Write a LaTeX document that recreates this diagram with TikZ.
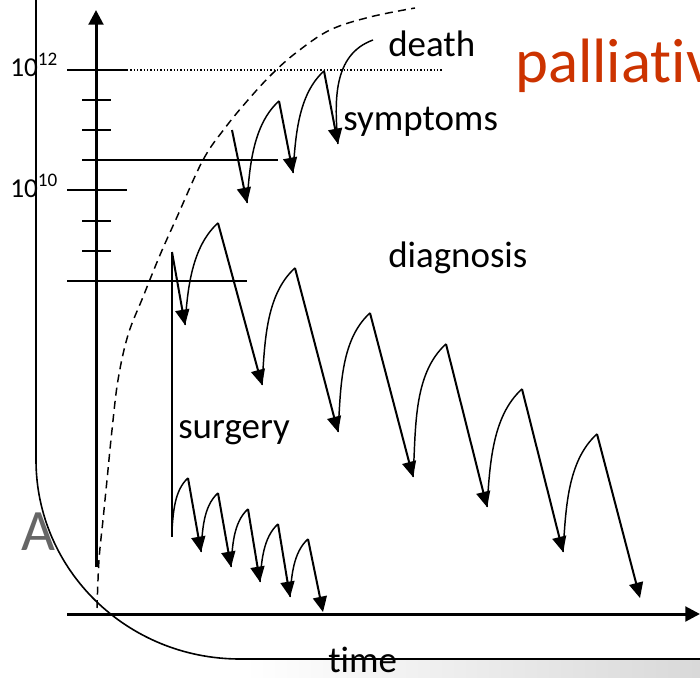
\documentclass[tikz,border=0pt]{standalone}
\usepackage{fontspec}
\setmainfont{Carlito}[Ligatures={CommonOff}]
\usetikzlibrary{arrows.meta,calc}
\definecolor{palred}{RGB}{204,51,0}
\begin{document}
\begin{tikzpicture}[x=0.75pt,y=0.75pt,
  lbl/.style={font=\fontsize{27.7}{30}\selectfont, inner sep=0pt, anchor=base west},
  exp/.style={font=\fontsize{20.5}{21}\selectfont, inner sep=0pt, anchor=base west},
  arr/.style={line width=1.5pt, -{Triangle[length=11.5pt,width=10.5pt]}},
  hump/.style={line width=1.1pt, out=86, in=222, looseness=0.85},
  axisline/.style={line width=2.25pt, -{Triangle[length=11pt,width=11pt]}},
  thinline/.style={line width=0.9pt},
  tickline/.style={line width=1.6pt}]
\useasboundingbox (0,0) rectangle (700,-678);
% faded letter behind the frame
\node[anchor=base west, inner sep=0pt, text=black!60, font=\fontsize{44}{44}\selectfont] (A) at (21,-550) {A};
% white interior of the frame
\fill[white] (36,10) -- (36,-460) .. controls (36,-570) and (127,-659) .. (240,-659) -- (710,-659) -- (710,10) -- cycle;
% grey band at the bottom
\shade[left color=white, right color=black!15] (245,-660) rectangle (700,-678);
% frame
\draw[line width=1.2pt] (36,0) -- (36,-460) .. controls (36,-570) and (127,-659) .. (240,-659) -- (700,-659);

% axes
\coordinate (yb) at (96,-567);
\coordinate (yt) at (96,-10);
\coordinate (xl) at (67,-614);
\coordinate (xr) at (700,-614);
\draw[axisline] (yb) -- (yt);
\draw[axisline] (xl) -- (xr);

% ticks and levels
\draw[tickline] (67,-70) -- (127,-70);
\draw[line width=0.9pt, dash pattern=on 0.9pt off 1.6pt] (127,-70) -- (443,-70);
\draw[tickline] (82,-100) -- (111,-100);
\draw[tickline] (82,-130) -- (111,-130);
\draw[tickline] (82,-160) -- (111,-160);
\draw[thinline] (111,-160) -- (278,-160);
\draw[tickline] (67,-190) -- (127,-190);
\draw[tickline] (82,-221) -- (111,-221);
\draw[tickline] (82,-251) -- (111,-251);
\draw[thinline] (67,-281) -- (247,-281);

\node[exp] (e12) at (10,-76) {10\textsuperscript{12}};
\node[exp] (e10) at (10,-197) {10\textsuperscript{10}};

% dashed growth curve
\draw[line width=1.1pt, dash pattern=on 6pt off 4pt] plot[smooth, tension=0.6] coordinates {
 (97,-608) (99,-560) (103,-520) (107,-480) (112,-430) (118,-380) (128,-335) (143,-297)
 (160,-255) (177,-217) (203,-160) (225,-128) (248,-100) (272,-74) (297,-52) (330,-30)
 (370,-17) (415,-8)};

% top group (symptoms)
\coordinate (t0) at (232,-130);
\coordinate (t1) at (247,-203);
\coordinate (p1) at (279,-101);
\coordinate (t2) at (293,-173);
\coordinate (p2) at (324,-71);
\coordinate (t3) at (338,-144);
\coordinate (dd) at (373,-40);
\draw[arr] (t0) -- (t1);
\draw[hump] (t1) to (p1);
\draw[arr] (p1) -- (t2);
\draw[hump] (t2) to (p2);
\draw[arr] (p2) -- (t3);
\draw[line width=1.1pt] (t3) to[out=95,in=200] (dd);

% middle group (diagnosis)
\coordinate (m0) at (172,-252);
\coordinate (m1) at (185,-325);
\coordinate (q1) at (218,-223);
\coordinate (m2) at (262,-385);
\coordinate (q2) at (295,-268);
\coordinate (m3) at (338,-432);
\coordinate (q3) at (370,-313);
\coordinate (m4) at (413,-477);
\coordinate (q4) at (446,-344);
\coordinate (m5) at (487,-507);
\coordinate (q5) at (522,-389);
\coordinate (m6) at (563,-552);
\coordinate (q6) at (597,-434);
\coordinate (m7) at (640,-598);
\draw[arr] (m0) -- (m1);
\draw[hump] (m1) to (q1);
\draw[arr] (q1) -- (m2);
\draw[hump] (m2) to (q2);
\draw[arr] (q2) -- (m3);
\draw[hump] (m3) to (q3);
\draw[arr] (q3) -- (m4);
\draw[hump] (m4) to (q4);
\draw[arr] (q4) -- (m5);
\draw[hump] (m5) to (q5);
\draw[arr] (q5) -- (m6);
\draw[hump] (m6) to (q6);
\draw[arr] (q6) -- (m7);

% surgery drop
\coordinate (s0) at (172,-537);
\coordinate (s1) at (172,-530);
\draw[line width=1.5pt] (m0) -- (s0);

% bottom group
\coordinate (r1) at (188,-478);
\coordinate (b1) at (201,-552);
\coordinate (r2) at (218,-493);
\coordinate (b2) at (231,-567);
\coordinate (r3) at (248,-509);
\coordinate (b3) at (260,-582);
\coordinate (r4) at (278,-524);
\coordinate (b4) at (290,-597);
\coordinate (r5) at (308,-539);
\coordinate (b5) at (323,-612);
\draw[hump] (s1) to (r1);
\draw[arr] (r1) -- (b1);
\draw[hump] (b1) to (r2);
\draw[arr] (r2) -- (b2);
\draw[hump] (b2) to (r3);
\draw[arr] (r3) -- (b3);
\draw[hump] (b3) to (r4);
\draw[arr] (r4) -- (b4);
\draw[hump] (b4) to (r5);
\draw[arr] (r5) -- (b5);

% labels
\node[lbl] (death) at (388,-56) {death};
\node[lbl] (symptoms) at (343,-130) {symptoms};
\node[lbl] (diagnosis) at (388,-267) {diagnosis};
\node[lbl] (surgery) at (178,-438) {surgery};
\node[lbl] (time) at (328,-672) {time};
\node[anchor=base west, inner sep=0pt, text=palred, font=\fontsize{47}{50}\selectfont] (pal) at (515,-82) {palliativ};
\end{tikzpicture}
\end{document}
